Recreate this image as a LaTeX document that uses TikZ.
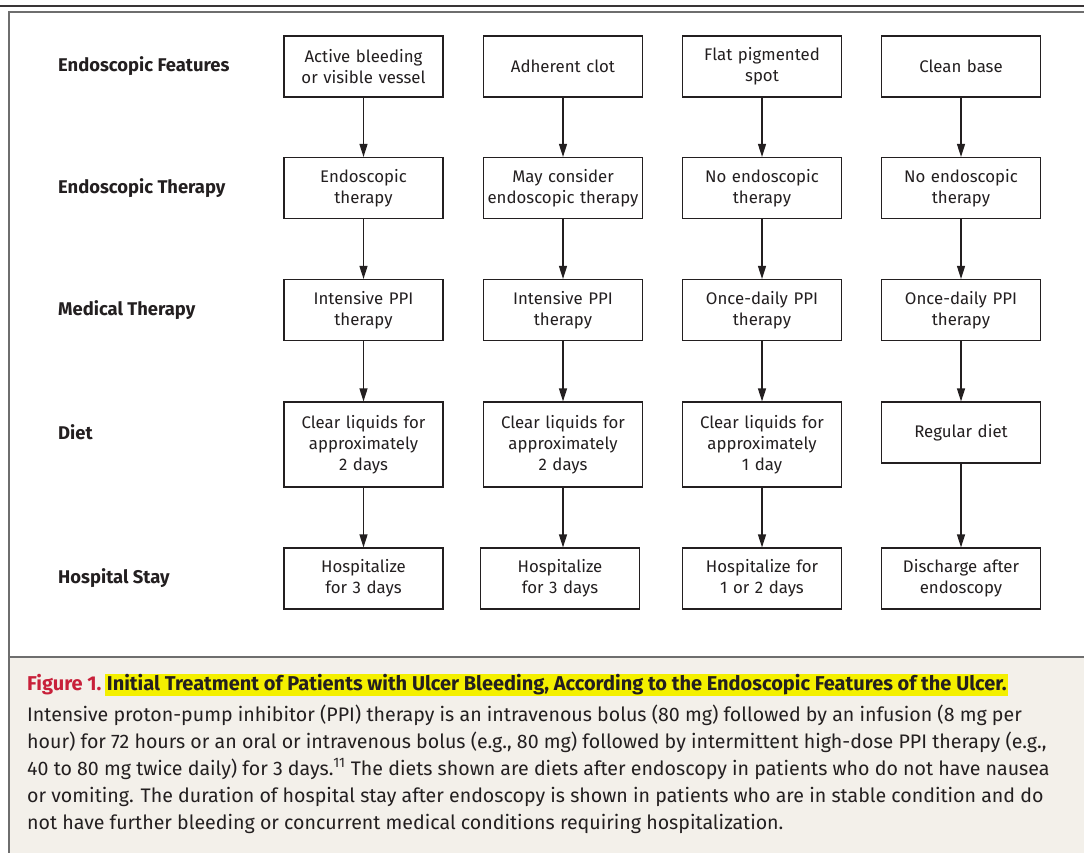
\documentclass[tikz,border=0pt]{standalone}
\usepackage{fontspec}
\setmainfont{Fira Sans}
\usetikzlibrary{arrows.meta}
\definecolor{txt}{HTML}{231F20}
\definecolor{frame}{HTML}{6E6E6E}
\definecolor{capbg}{HTML}{F3F0EA}
\definecolor{figred}{HTML}{C8203A}
\definecolor{hly}{HTML}{F4F000}
\begin{document}
\begin{tikzpicture}[x=1pt,y=-1pt,
  box/.style={draw=txt, line width=1.2pt, fill=white, minimum width=159pt, inner sep=0pt,
    text width=156pt, align=center, text=txt, font=\fontsize{16.8}{21}\selectfont},
  two/.style={minimum height=61pt},
  three/.style={minimum height=85pt},
  rowlbl/.style={anchor=west, inner sep=0pt, text=txt, font=\fontsize{18.4}{21}\selectfont\bfseries},
  arr/.style={draw=txt, line width=1.2pt, -{Triangle[length=13pt,width=8pt]}},
  captxt/.style={anchor=base west, inner sep=0pt, text=txt, font=\fontsize{19.6}{27}\selectfont}
]
\useasboundingbox (0,0) rectangle (1084,852);
\clip (0,0) rectangle (1084,852);
% frame and caption background
\fill[white] (0,0) rectangle (1084,852);
\fill[capbg] (9,657) rectangle (1100,870);
\draw[frame, line width=1.6pt] (9,870) -- (9,12) -- (1100,12);
\draw[frame, line width=2.4pt] (9,657) -- (1100,657);
\draw[txt!90, line width=2pt] (0,6) -- (1100,6);

% row labels
\node[rowlbl] (l1) at (58,66) {Endoscopic Features};
\node[rowlbl] (l2) at (58,188) {Endoscopic Therapy};
\node[rowlbl] (l3) at (58,310) {Medical Therapy};
\node[rowlbl] (l4) at (58,432) {Diet};
\node[rowlbl] (l5) at (58,578) {Hospital Stay};

% column 1
\node[box,two] (a1) at (363.5,66.5) {Active bleeding\\or visible vessel};
\node[box,two] (a2) at (363.5,188) {Endoscopic\\therapy};
\node[box,two] (a3) at (363.5,310) {Intensive PPI\\therapy};
\node[box,three] (a4) at (363.5,444.5) {Clear liquids for\\approximately\\2 days};
\node[box,two] (a5) at (363.5,578.5) {Hospitalize\\for 3 days};
% column 2
\node[box,two] (b1) at (563,66.5) {Adherent clot};
\node[box,two] (b2) at (563,188) {May consider\\endoscopic therapy};
\node[box,two] (b3) at (563,310) {Intensive PPI\\therapy};
\node[box,three] (b4) at (563,444.5) {Clear liquids for\\approximately\\2 days};
\node[box,two] (b5) at (560,578.5) {Hospitalize\\for 3 days};
% column 3
\node[box,two] (c1) at (762,66.5) {Flat pigmented\\spot};
\node[box,two] (c2) at (762,188) {No endoscopic\\therapy};
\node[box,two] (c3) at (762,310) {Once-daily PPI\\therapy};
\node[box,three] (c4) at (762,444.5) {Clear liquids for\\approximately\\1 day};
\node[box,two] (c5) at (762,578.5) {Hospitalize for\\1 or 2 days};
% column 4
\node[box,two] (d1) at (961,66.5) {Clean base};
\node[box,two] (d2) at (961,188) {No endoscopic\\therapy};
\node[box,two] (d3) at (961,310) {Once-daily PPI\\therapy};
\node[box,two] (d4) at (961,432.5) {Regular diet};
\node[box,two] (d5) at (961,578.5) {Discharge after\\endoscopy};

% arrows
\foreach \c in {a,b,c,d}{
  \draw[arr] (\c1.south) -- (\c2.north);
  \draw[arr] (\c2.south) -- (\c3.north);
  \draw[arr] (\c3.south) -- (\c4.north);
}
\draw[arr] (a4.south) -- (a5.north);
\draw[arr] (b4.south) -- (b4.south |- b5.north);
\draw[arr] (c4.south) -- (c5.north);
\draw[arr] (d4.south) -- (d5.north);

% caption
\node[anchor=base west, inner sep=0pt, text=figred, font=\fontsize{20}{27}\selectfont\bfseries] (fig) at (27,690) {Figure 1.};
\node[anchor=base west, fill=hly, inner xsep=1.5pt, inner ysep=1.5pt, text height=15pt, text depth=4pt,
  text=txt, font=\fontsize{20}{27}\selectfont\bfseries] (title) at ([xshift=3.5pt]fig.base east)
  {Initial Treatment of Patients with Ulcer Bleeding, According to the Endoscopic Features of the Ulcer.};
\node[captxt] (body1) at (27,721) {Intensive proton-pump inhibitor (PPI) therapy is an intravenous bolus (80 mg) followed by an infusion (8 mg per};
\node[captxt] (body2) at (27,748) {hour) for 72 hours or an oral or intravenous bolus (e.g., 80 mg) followed by intermittent high-dose PPI therapy (e.g.,};
\node[captxt] (body3) at (27,775) {40 to 80 mg twice daily) for 3 days.\textsuperscript{11} The diets shown are diets after endoscopy in patients who do not have nausea};
\node[captxt] (body4) at (27,802) {or vomiting. The duration of hospital stay after endoscopy is shown in patients who are in stable condition and do};
\node[captxt] (body5) at (27,829) {not have further bleeding or concurrent medical conditions requiring hospitalization.};
\end{tikzpicture}
\end{document}
